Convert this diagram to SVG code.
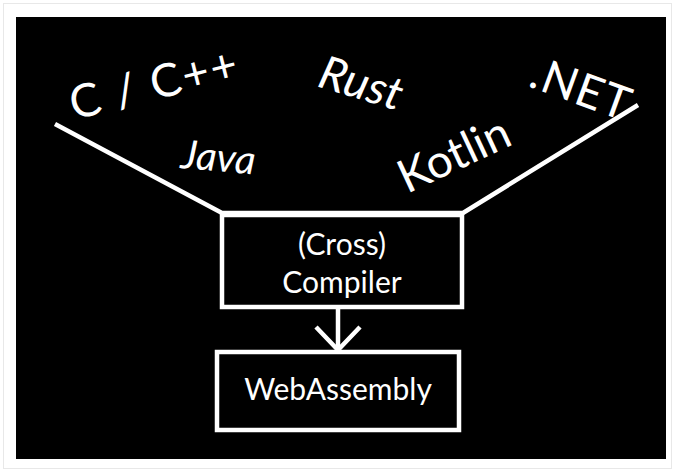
<svg xmlns="http://www.w3.org/2000/svg" width="675" height="472" viewBox="0 0 675 472">
<style>
.lang{font-family:Lato,"Open Sans",sans-serif;fill:#fff;font-size:46px}
.lbl{font-family:Lato,"Open Sans",sans-serif;fill:#fff;font-size:30px;text-anchor:middle}
.box{fill:none;stroke:#fff;stroke-width:4.5}
.wire{fill:none;stroke:#fff;stroke-width:4.5;stroke-linejoin:miter}
</style>
<rect x="0" y="0" width="675" height="472" fill="#fff"/>
<rect x="3.5" y="3.5" width="668" height="465" fill="none" stroke="#e8e8e8" stroke-width="1"/>
<rect x="16" y="17" width="650" height="442" fill="#000"/>
<g id="connectors">
<polyline class="wire" points="55,124 222,213 463,213 638,105"/>
<line class="wire" x1="338" y1="307" x2="338" y2="350"/>
<polyline class="wire" points="316,327 338,350 360,327"/>
</g>
<g id="langs">
<text id="c-cpp" class="lang" letter-spacing="2" transform="translate(74,120) rotate(-14)">C / C++</text>
<text id="rust" class="lang" font-style="italic" transform="translate(316,86) rotate(17)">Rust</text>
<text id="dotnet" class="lang" letter-spacing="1" transform="translate(527,86) rotate(20)">.NET</text>
<text id="java" class="lang" style="font-size:40px" font-style="italic" transform="translate(180,168) rotate(5)">Java</text>
<text id="kotlin" class="lang" transform="translate(407,194) rotate(-25)">Kotlin</text>
</g>
<g id="compiler">
<rect class="box" x="222" y="215" width="240" height="92"/>
<text class="lbl" x="342" y="255">(Cross)</text>
<text class="lbl" x="342" y="293">Compiler</text>
</g>
<g id="wasm">
<rect class="box" x="217" y="352" width="242" height="78"/>
<text class="lbl" x="338" y="400">WebAssembly</text>
</g>
</svg>
